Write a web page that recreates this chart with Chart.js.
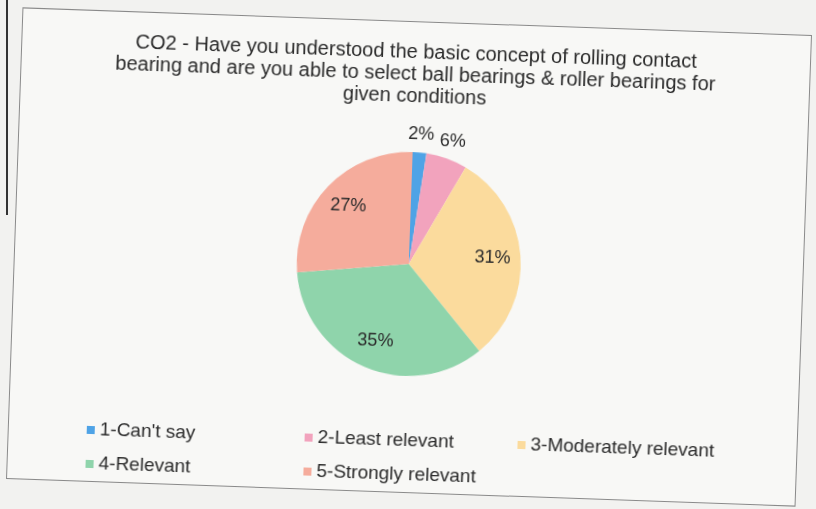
<!DOCTYPE html>
<html>
<head>
<meta charset="utf-8">
<script src="https://cdn.jsdelivr.net/npm/chart.js@4/dist/chart.umd.min.js"></script>
<style>
  body { margin: 0; background: #f2f2f0; width: 816px; height: 509px; overflow: hidden; position: relative; }
  #frame {
    position: absolute; left: 14px; top: 21px; width: 790px; height: 472px;
    box-sizing: border-box; border: 1px solid #8a8a8a; background: #f8f8f6;
    transform: rotate(2deg); transform-origin: 50% 50%;
  }
  #leftbox { position: absolute; left: 0; top: 0; width: 6px; height: 215px; border-right: 2px solid #333; }
</style>
</head>
<body>
<div id="leftbox"></div>
<div id="frame"><canvas id="main-chart" width="788" height="470"></canvas></div>
<script>
// data
var labels = ['1-Can\'t say', '2-Least relevant', '3-Moderately relevant', '4-Relevant', '5-Strongly relevant'];
var percents = [2, 6, 31, 35, 27];
var colours = ['#4fa3e6', '#f2a3bd', '#fbdb9d', '#8fd4ab', '#f5ac9c'];
var titleLines = [
	'CO2 - Have you understood the basic concept of rolling contact',
	'bearing and are you able to select ball bearings & roller bearings for',
	'given conditions'
];

var textColour = '#2b2b2b';
var fontFamily = '"Liberation Sans", Arial, sans-serif';

// percentage labels: small slices outside, the rest inside
var sliceLabels = {
	id: 'sliceLabels',
	afterDatasetsDraw(chart) {
		var ctx = chart.ctx;
		var meta = chart.getDatasetMeta(0);
		ctx.save();
		ctx.font = '18px ' + fontFamily;
		ctx.fillStyle = textColour;
		ctx.textAlign = 'center';
		ctx.textBaseline = 'middle';
		meta.data.forEach(function(arc, i) {
			var p = arc.getProps(['x', 'y', 'startAngle', 'endAngle', 'outerRadius'], true);
			var mid = (p.startAngle + p.endAngle) / 2;
			var d = percents[i] < 10 ? p.outerRadius + 18 : p.outerRadius * 0.75;
			ctx.fillText(percents[i] + '%', p.x + Math.cos(mid) * d, p.y + Math.sin(mid) * d);
		});
		ctx.restore();
	}
};

// excel style legend, 3 columns
var gridLegend = {
	id: 'gridLegend',
	afterDraw(chart) {
		var ctx = chart.ctx;
		var colX = [91, 309, 522];
		var rowY = [419, 453];
		ctx.save();
		ctx.font = '19px ' + fontFamily;
		ctx.textBaseline = 'middle';
		labels.forEach(function(lab, i) {
			var x = colX[i % 3];
			var y = rowY[Math.floor(i / 3)];
			ctx.fillStyle = colours[i];
			ctx.fillRect(x - 13, y - 4, 8, 8);
			ctx.fillStyle = textColour;
			ctx.fillText(lab, x, y);
		});
		ctx.restore();
	}
};

var ctx = document.getElementById('main-chart');
new Chart(ctx, {
	type: 'pie',
	data: {
		labels: labels,
		datasets: [{
			data: percents,
			backgroundColor: colours,
			borderWidth: 0
		}]
	},
	options: {
		responsive: false,
		animation: false,
		layout: { padding: { top: 0, bottom: 116, left: 0, right: 0 } },
		plugins: {
			legend: { display: false },
			tooltip: { enabled: false },
			title: {
				display: true,
				text: titleLines,
				color: textColour,
				font: { family: fontFamily, size: 20, weight: 'normal', lineHeight: 1.1 },
				padding: { top: 19, bottom: 45 }
			}
		}
	},
	plugins: [sliceLabels, gridLegend]
});
</script>
</body>
</html>
